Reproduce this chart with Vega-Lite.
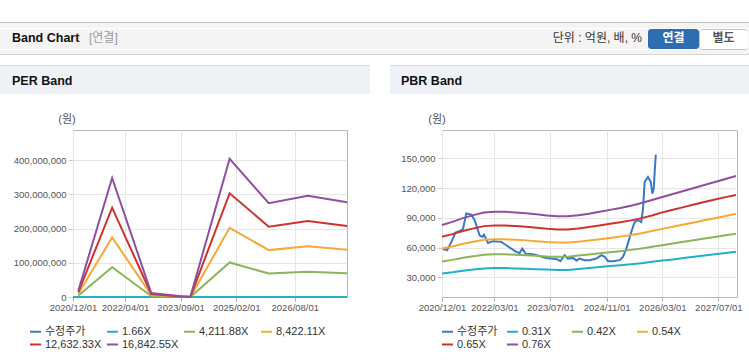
{
  "$schema": "https://vega.github.io/schema/vega-lite/v6.json",
  "background": "#ffffff",
  "padding": {"top": 22, "left": 0, "right": 0, "bottom": 0},
  "config": {
    "font": "'Liberation Sans', 'Noto Sans CJK KR', sans-serif",
    "numberFormat": ",",
    "view": {"stroke": null},
    "line": {"strokeWidth": 2},
    "title": {"anchor": "start", "frame": "group", "orient": "top", "offset": 0, "baseline": "middle", "fontWeight": "bold", "fontSize": 12.5, "color": "#111111"}
  },
  "datasets": {
    "price": [
      {"d": "2020-12-10", "p": 57900}, {"d": "2020-12-24", "p": 58300}, {"d": "2021-01-14", "p": 57300},
      {"d": "2021-02-21", "p": 65700}, {"d": "2021-03-28", "p": 75000}, {"d": "2021-05-02", "p": 76500},
      {"d": "2021-06-01", "p": 78500}, {"d": "2021-06-30", "p": 94300}, {"d": "2021-08-13", "p": 93200},
      {"d": "2021-09-11", "p": 87600}, {"d": "2021-10-24", "p": 72400}, {"d": "2021-11-17", "p": 70700},
      {"d": "2021-12-01", "p": 73000}, {"d": "2022-01-05", "p": 64600}, {"d": "2022-02-18", "p": 66400},
      {"d": "2022-05-01", "p": 65700}, {"d": "2022-06-13", "p": 62300}, {"d": "2022-07-26", "p": 58900},
      {"d": "2022-09-08", "p": 55600}, {"d": "2022-10-07", "p": 54500}, {"d": "2022-10-30", "p": 58900},
      {"d": "2022-11-28", "p": 53800}, {"d": "2023-02-01", "p": 53200}, {"d": "2023-03-29", "p": 51500},
      {"d": "2023-05-26", "p": 49500}, {"d": "2023-07-09", "p": 48800}, {"d": "2023-08-27", "p": 48200},
      {"d": "2023-09-26", "p": 46200}, {"d": "2023-11-02", "p": 52200}, {"d": "2023-12-01", "p": 48800},
      {"d": "2024-01-14", "p": 49500}, {"d": "2024-02-13", "p": 46800}, {"d": "2024-03-11", "p": 48800},
      {"d": "2024-04-24", "p": 47200}, {"d": "2024-06-07", "p": 47200}, {"d": "2024-08-04", "p": 48800},
      {"d": "2024-09-17", "p": 52200}, {"d": "2024-10-16", "p": 50500}, {"d": "2024-11-14", "p": 46200},
      {"d": "2024-12-27", "p": 46200}, {"d": "2025-02-24", "p": 47200}, {"d": "2025-03-23", "p": 50500},
      {"d": "2025-04-22", "p": 58900}, {"d": "2025-06-04", "p": 75800}, {"d": "2025-07-03", "p": 85900},
      {"d": "2025-08-01", "p": 87600}, {"d": "2025-08-30", "p": 85900}, {"d": "2025-09-14", "p": 99300},
      {"d": "2025-09-28", "p": 126300}, {"d": "2025-10-27", "p": 131300}, {"d": "2025-11-20", "p": 126300},
      {"d": "2025-12-04", "p": 114400}, {"d": "2025-12-16", "p": 119500}, {"d": "2025-12-27", "p": 141400},
      {"d": "2026-01-03", "p": 153800}
    ],
    "per": [
      {"d": "2020-12-01", "p166": 30000},
      {"d": "2021-01-20", "p166": 1800, "p4211": 4600000, "p8422": 9300000, "p12632": 14000000, "p16842": 18700000},
      {"d": "2021-12-01", "p166": 34300, "p4211": 87000000, "p8422": 174000000, "p12632": 261000000, "p16842": 348000000},
      {"d": "2022-12-01", "p166": 1100, "p4211": 2900000, "p8422": 5800000, "p12632": 8700000, "p16842": 11600000},
      {"d": "2023-09-01", "p166": 300, "p4211": 600000, "p8422": 1200000, "p12632": 1800000, "p16842": 2400000},
      {"d": "2023-12-01", "p166": 100, "p4211": 100000, "p8422": 200000, "p12632": 300000, "p16842": 400000},
      {"d": "2024-12-01", "p166": 39800, "p4211": 101000000, "p8422": 202000000, "p12632": 303000000, "p16842": 404000000},
      {"d": "2025-12-01", "p166": 27000, "p4211": 68500000, "p8422": 137000000, "p12632": 205500000, "p16842": 274000000},
      {"d": "2026-12-01", "p166": 29200, "p4211": 74000000, "p8422": 148000000, "p12632": 222000000, "p16842": 296000000},
      {"d": "2027-12-01", "p166": 27300, "p4211": 69200000, "p8422": 138400000, "p12632": 207600000, "p16842": 276700000}
    ],
    "pbr": [
      {"d": "2020-12-01", "b031": 33800, "b042": 45800, "b054": 58900, "b065": 70900, "b076": 82800},
      {"d": "2021-03-01", "b031": 35000, "b042": 47500, "b054": 61000, "b065": 73500, "b076": 85900},
      {"d": "2021-06-01", "b031": 36600, "b042": 49600, "b054": 63700, "b065": 76700, "b076": 89700},
      {"d": "2021-09-01", "b031": 37800, "b042": 51200, "b054": 65900, "b065": 79300, "b076": 92700},
      {"d": "2021-12-01", "b031": 38900, "b042": 52700, "b054": 67800, "b065": 81600, "b076": 95400},
      {"d": "2022-03-01", "b031": 39200, "b042": 53100, "b054": 68300, "b065": 82200, "b076": 96100},
      {"d": "2022-06-01", "b031": 39200, "b042": 53100, "b054": 68300, "b065": 82200, "b076": 96100},
      {"d": "2022-09-01", "b031": 38900, "b042": 52700, "b054": 67800, "b065": 81600, "b076": 95400},
      {"d": "2022-12-01", "b031": 38600, "b042": 52300, "b054": 67200, "b065": 80900, "b076": 94600},
      {"d": "2023-03-01", "b031": 38100, "b042": 51700, "b054": 66400, "b065": 80000, "b076": 93500},
      {"d": "2023-06-01", "b031": 37700, "b042": 51000, "b054": 65600, "b065": 79000, "b076": 92300},
      {"d": "2023-09-01", "b031": 37400, "b042": 50600, "b054": 65100, "b065": 78300, "b076": 91600},
      {"d": "2023-12-01", "b031": 37400, "b042": 50600, "b054": 65100, "b065": 78300, "b076": 91600},
      {"d": "2024-03-01", "b031": 38400, "b042": 52000, "b054": 65900, "b065": 79300, "b076": 92700},
      {"d": "2024-06-01", "b031": 39300, "b042": 53000, "b054": 67000, "b065": 80600, "b076": 94200},
      {"d": "2024-09-01", "b031": 40300, "b042": 54100, "b054": 68300, "b065": 82200, "b076": 96100},
      {"d": "2024-12-01", "b031": 41200, "b042": 55200, "b054": 69700, "b065": 83900, "b076": 98000},
      {"d": "2025-03-01", "b031": 42100, "b042": 56300, "b054": 71000, "b065": 85500, "b076": 99900},
      {"d": "2025-06-01", "b031": 43100, "b042": 57600, "b054": 72600, "b065": 87400, "b076": 102200},
      {"d": "2025-09-01", "b031": 44200, "b042": 59100, "b054": 74500, "b065": 89700, "b076": 104900},
      {"d": "2025-12-01", "b031": 45500, "b042": 60700, "b054": 76700, "b065": 92300, "b076": 107900},
      {"d": "2026-03-01", "b031": 46800, "b042": 62300, "b054": 78800, "b065": 95500, "b076": 111000},
      {"d": "2026-06-01", "b031": 48000, "b042": 64000, "b054": 81000, "b065": 98200, "b076": 114000},
      {"d": "2026-09-01", "b031": 49300, "b042": 65700, "b054": 83200, "b065": 100800, "b076": 117000},
      {"d": "2026-12-01", "b031": 50600, "b042": 67400, "b054": 85300, "b065": 103400, "b076": 120100},
      {"d": "2027-03-01", "b031": 51900, "b042": 69000, "b054": 87500, "b065": 106000, "b076": 123100},
      {"d": "2027-06-01", "b031": 53200, "b042": 70700, "b054": 89600, "b065": 108500, "b076": 126200},
      {"d": "2027-09-01", "b031": 54400, "b042": 72400, "b054": 91800, "b065": 110900, "b076": 129200},
      {"d": "2027-12-01", "b031": 55600, "b042": 74000, "b054": 94000, "b065": 113100, "b076": 132200}
    ]
  },
  "spacing": 0,
  "resolve": {"scale": {"color": "independent"}, "legend": {"color": "independent"}},
  "vconcat": [
    {
      "vconcat": [
        {"width": 749, "height": 1, "data": {"values": []}, "mark": "point", "view": {"fill": "#c4c4c4"}},
        {"width": 749, "height": 5, "data": {"values": []}, "mark": "point", "view": {"fill": "#f4f4f4"}}
      ],
      "spacing": 0, "bounds": "flush"
    },
    {
      "hconcat": [
        {"width": 88, "height": 20, "data": {"values": []}, "mark": "point", "view": {"fill": "#f4f4f4"},
         "title": {"text": "Band Chart", "dx": 12, "dy": 19.3, "fontSize": 12.5, "fontWeight": "bold", "color": "#111111"}},
        {"width": 460, "height": 20, "data": {"values": []}, "mark": "point", "view": {"fill": "#f4f4f4"},
         "title": {"text": "[연결]", "dx": 1, "dy": 20.3, "fontSize": 12, "fontWeight": "normal", "color": "#999999"}},
        {"width": 100, "height": 20, "data": {"values": []}, "mark": "point", "view": {"fill": "#f4f4f4"},
         "title": {"text": "단위 : 억원, 배, %", "anchor": "end", "dx": -6, "dy": 20.3, "fontSize": 12, "fontWeight": "normal", "color": "#333333"}},
        {"width": 51, "height": 20, "data": {"values": []}, "mark": "point", "view": {"fill": "#2f6db1", "cornerRadius": 3},
         "title": {"text": "연결", "anchor": "middle", "dy": 19.7, "fontSize": 12, "fontWeight": "bold", "color": "#ffffff"}},
        {"width": 49, "height": 20, "data": {"values": []}, "mark": "point", "view": {"fill": "#ffffff", "stroke": "#c3c3c3", "cornerRadius": 3},
         "title": {"text": "별도", "anchor": "middle", "dy": 19.7, "fontSize": 12, "fontWeight": "bold", "color": "#555555"}},
        {"width": 1, "height": 20, "data": {"values": []}, "mark": "point", "view": {"fill": "#f4f4f4"}}
      ],
      "spacing": 0, "bounds": "flush"
    },
    {
      "vconcat": [
        {"width": 749, "height": 4, "data": {"values": []}, "mark": "point", "view": {"fill": "#f4f4f4"}},
        {"width": 749, "height": 1, "data": {"values": []}, "mark": "point", "view": {"fill": "#d4d4d4"}},
        {"width": 749, "height": 10, "data": {"values": []}, "mark": "point"}
      ],
      "spacing": 0, "bounds": "flush"
    },
    {
      "hconcat": [
        {"width": 370, "height": 1, "data": {"values": []}, "mark": "point", "view": {"fill": "#d8d8d8"}},
        {"width": 20, "height": 1, "data": {"values": []}, "mark": "point"},
        {"width": 359, "height": 1, "data": {"values": []}, "mark": "point", "view": {"fill": "#d8d8d8"}}
      ],
      "spacing": 0, "bounds": "flush"
    },
    {
      "hconcat": [
        {"width": 370, "height": 28, "data": {"values": []}, "mark": "point", "view": {"fill": "#eef2f7"},
         "title": {"text": "PER Band", "dx": 12, "dy": 25.2, "fontSize": 12.5, "fontWeight": "bold", "color": "#111111"}},
        {"width": 20, "height": 28, "data": {"values": []}, "mark": "point"},
        {"width": 359, "height": 28, "data": {"values": []}, "mark": "point", "view": {"fill": "#eef2f7"},
         "title": {"text": "PBR Band", "dx": 11, "dy": 25.2, "fontSize": 12.5, "fontWeight": "bold", "color": "#111111"}}
      ],
      "spacing": 0, "bounds": "flush"
    },
    {
      "hconcat": [
        {"width": 134, "height": 35, "data": {"values": []}, "mark": "point",
         "title": {"text": "(원)", "anchor": "middle", "dy": 34.8, "fontSize": 11, "fontWeight": "normal", "color": "#555555"}},
        {"width": 606, "height": 35, "data": {"values": []}, "mark": "point",
         "title": {"text": "(원)", "anchor": "middle", "dy": 34.8, "fontSize": 11, "fontWeight": "normal", "color": "#555555"}},
        {"width": 9, "height": 35, "data": {"values": []}, "mark": "point"}
      ],
      "spacing": 0, "bounds": "flush"
    },
    {
      "hconcat": [
        {"width": 73, "height": 235, "data": {"values": []}, "mark": "point"},
        {
          "width": 274, "height": 167,
          "view": {"stroke": "#b5b5b5", "fill": "#ffffff"},
          "layer": [
            {
              "data": {"name": "price"},
              "mark": {"type": "line", "strokeWidth": 2},
              "encoding": {
                "x": {"field": "d", "type": "temporal",
                      "scale": {"type": "utc", "domain": [{"year": 2020, "month": 12, "date": 1, "utc": true}, {"year": 2027, "month": 12, "date": 1, "utc": true}]},
                      "axis": {"values": [{"year": 2020, "month": 12, "date": 1, "utc": true}, {"year": 2022, "month": 4, "date": 1, "utc": true}, {"year": 2023, "month": 9, "date": 1, "utc": true}, {"year": 2025, "month": 2, "date": 1, "utc": true}, {"year": 2026, "month": 8, "date": 1, "utc": true}],
                               "format": "%Y/%m/%d", "title": null, "grid": true, "gridColor": "#e6e6e6", "domain": false, "tickSize": 4, "tickColor": "#b0b0b0",
                               "labelFontSize": 9.5, "labelColor": "#555555", "labelPadding": 1, "labelFlush": false, "labelOverlap": false, "labelBound": false}},
                "y": {"field": "p", "type": "quantitative", "title": null,
                      "scale": {"domain": [0, 488000000], "nice": false, "zero": false},
                      "axis": {"values": [0, 100000000, 200000000, 300000000, 400000000], "format": ",", "labelExpr": "format(datum.value, ',')", "grid": true, "gridColor": "#e6e6e6", "domain": false,
                               "tickSize": 5, "tickColor": "#cfcfcf", "labelFontSize": 9.5, "labelColor": "#555555", "labelPadding": 2, "title": null}},
                "color": {"datum": "수정주가",
                          "scale": {"domain": ["수정주가", "1.66X", "4,211.88X", "8,422.11X", "12,632.33X", "16,842.55X"], "range": ["#3a78c9", "#22b0c6", "#8cb458", "#f6a935", "#d0312d", "#8f4e9f"]},
                          "legend": {"orient": "none", "legendX": -44, "legendY": 195, "direction": "horizontal", "columns": 4, "gridAlign": "all", "columnPadding": 1, "rowPadding": 1,
                                     "symbolType": "stroke", "symbolSize": 121, "symbolStrokeWidth": 2, "labelFontSize": 11, "labelColor": "#333333", "labelOffset": 3, "padding": 0, "title": null}}
              }
            },
            {"data": {"name": "per"}, "mark": {"type": "line", "strokeWidth": 2},
             "encoding": {"x": {"field": "d", "type": "temporal"}, "y": {"field": "p166", "type": "quantitative", "title": null}, "color": {"datum": "1.66X"}}},
            {"data": {"name": "per"}, "mark": {"type": "line", "strokeWidth": 2},
             "encoding": {"x": {"field": "d", "type": "temporal"}, "y": {"field": "p4211", "type": "quantitative", "title": null}, "color": {"datum": "4,211.88X"}}},
            {"data": {"name": "per"}, "mark": {"type": "line", "strokeWidth": 2},
             "encoding": {"x": {"field": "d", "type": "temporal"}, "y": {"field": "p8422", "type": "quantitative", "title": null}, "color": {"datum": "8,422.11X"}}},
            {"data": {"name": "per"}, "mark": {"type": "line", "strokeWidth": 2},
             "encoding": {"x": {"field": "d", "type": "temporal"}, "y": {"field": "p12632", "type": "quantitative", "title": null}, "color": {"datum": "12,632.33X"}}},
            {"data": {"name": "per"}, "mark": {"type": "line", "strokeWidth": 2},
             "encoding": {"x": {"field": "d", "type": "temporal"}, "y": {"field": "p16842", "type": "quantitative", "title": null}, "color": {"datum": "16,842.55X"}}}
          ]
        },
        {"width": 95, "height": 235, "data": {"values": []}, "mark": "point"},
        {
          "width": 295, "height": 167,
          "view": {"stroke": "#b5b5b5", "fill": "#ffffff"},
          "layer": [
            {
              "data": {"name": "price"},
              "mark": {"type": "line", "strokeWidth": 2},
              "encoding": {
                "x": {"field": "d", "type": "temporal",
                      "scale": {"type": "utc", "domain": [{"year": 2020, "month": 12, "date": 1, "utc": true}, {"year": 2027, "month": 12, "date": 10, "utc": true}]},
                      "axis": {"values": [{"year": 2020, "month": 12, "date": 1, "utc": true}, {"year": 2022, "month": 3, "date": 1, "utc": true}, {"year": 2023, "month": 7, "date": 1, "utc": true}, {"year": 2024, "month": 11, "date": 1, "utc": true}, {"year": 2026, "month": 3, "date": 1, "utc": true}, {"year": 2027, "month": 7, "date": 1, "utc": true}],
                               "format": "%Y/%m/%d", "title": null, "grid": true, "gridColor": "#e6e6e6", "domain": false, "tickSize": 4, "tickColor": "#b0b0b0",
                               "labelFontSize": 9.5, "labelColor": "#555555", "labelPadding": 1, "labelFlush": false, "labelOverlap": false, "labelBound": false}},
                "y": {"field": "p", "type": "quantitative", "title": null,
                      "scale": {"domain": [10000, 178700], "nice": false, "zero": false},
                      "axis": {"values": [30000, 60000, 90000, 120000, 150000], "format": ",", "labelExpr": "format(datum.value, ',')", "grid": true, "gridColor": "#e6e6e6", "domain": false,
                               "tickSize": 5, "tickColor": "#cfcfcf", "labelFontSize": 9.5, "labelColor": "#555555", "labelPadding": 2, "title": null}},
                "color": {"datum": "수정주가",
                          "scale": {"domain": ["수정주가", "0.31X", "0.42X", "0.54X", "0.65X", "0.76X"], "range": ["#3a78c9", "#22b0c6", "#8cb458", "#f6a935", "#d0312d", "#8f4e9f"]},
                          "legend": {"orient": "none", "legendX": -1, "legendY": 195, "direction": "horizontal", "columns": 4, "gridAlign": "all", "columnPadding": 5, "rowPadding": 1,
                                     "symbolType": "stroke", "symbolSize": 121, "symbolStrokeWidth": 2, "labelFontSize": 11, "labelColor": "#333333", "labelOffset": 3, "padding": 0, "title": null}}
              }
            },
            {"data": {"name": "pbr"}, "mark": {"type": "line", "strokeWidth": 2},
             "encoding": {"x": {"field": "d", "type": "temporal"}, "y": {"field": "b031", "type": "quantitative", "title": null}, "color": {"datum": "0.31X"}}},
            {"data": {"name": "pbr"}, "mark": {"type": "line", "strokeWidth": 2},
             "encoding": {"x": {"field": "d", "type": "temporal"}, "y": {"field": "b042", "type": "quantitative", "title": null}, "color": {"datum": "0.42X"}}},
            {"data": {"name": "pbr"}, "mark": {"type": "line", "strokeWidth": 2},
             "encoding": {"x": {"field": "d", "type": "temporal"}, "y": {"field": "b054", "type": "quantitative", "title": null}, "color": {"datum": "0.54X"}}},
            {"data": {"name": "pbr"}, "mark": {"type": "line", "strokeWidth": 2},
             "encoding": {"x": {"field": "d", "type": "temporal"}, "y": {"field": "b065", "type": "quantitative", "title": null}, "color": {"datum": "0.65X"}}},
            {"data": {"name": "pbr"}, "mark": {"type": "line", "strokeWidth": 2},
             "encoding": {"x": {"field": "d", "type": "temporal"}, "y": {"field": "b076", "type": "quantitative", "title": null}, "color": {"datum": "0.76X"}}}
          ]
        },
        {"width": 12, "height": 235, "data": {"values": []}, "mark": "point"}
      ],
      "spacing": 0, "bounds": "flush",
      "resolve": {"scale": {"color": "independent"}, "legend": {"color": "independent"}}
    },
    {
      "hconcat": [
        {"width": 370, "height": 1, "data": {"values": []}, "mark": "point", "view": {"fill": "#dcdcdc"}},
        {"width": 20, "height": 1, "data": {"values": []}, "mark": "point"},
        {"width": 359, "height": 1, "data": {"values": []}, "mark": "point", "view": {"fill": "#dcdcdc"}}
      ],
      "spacing": 0, "bounds": "flush"
    }
  ]
}
